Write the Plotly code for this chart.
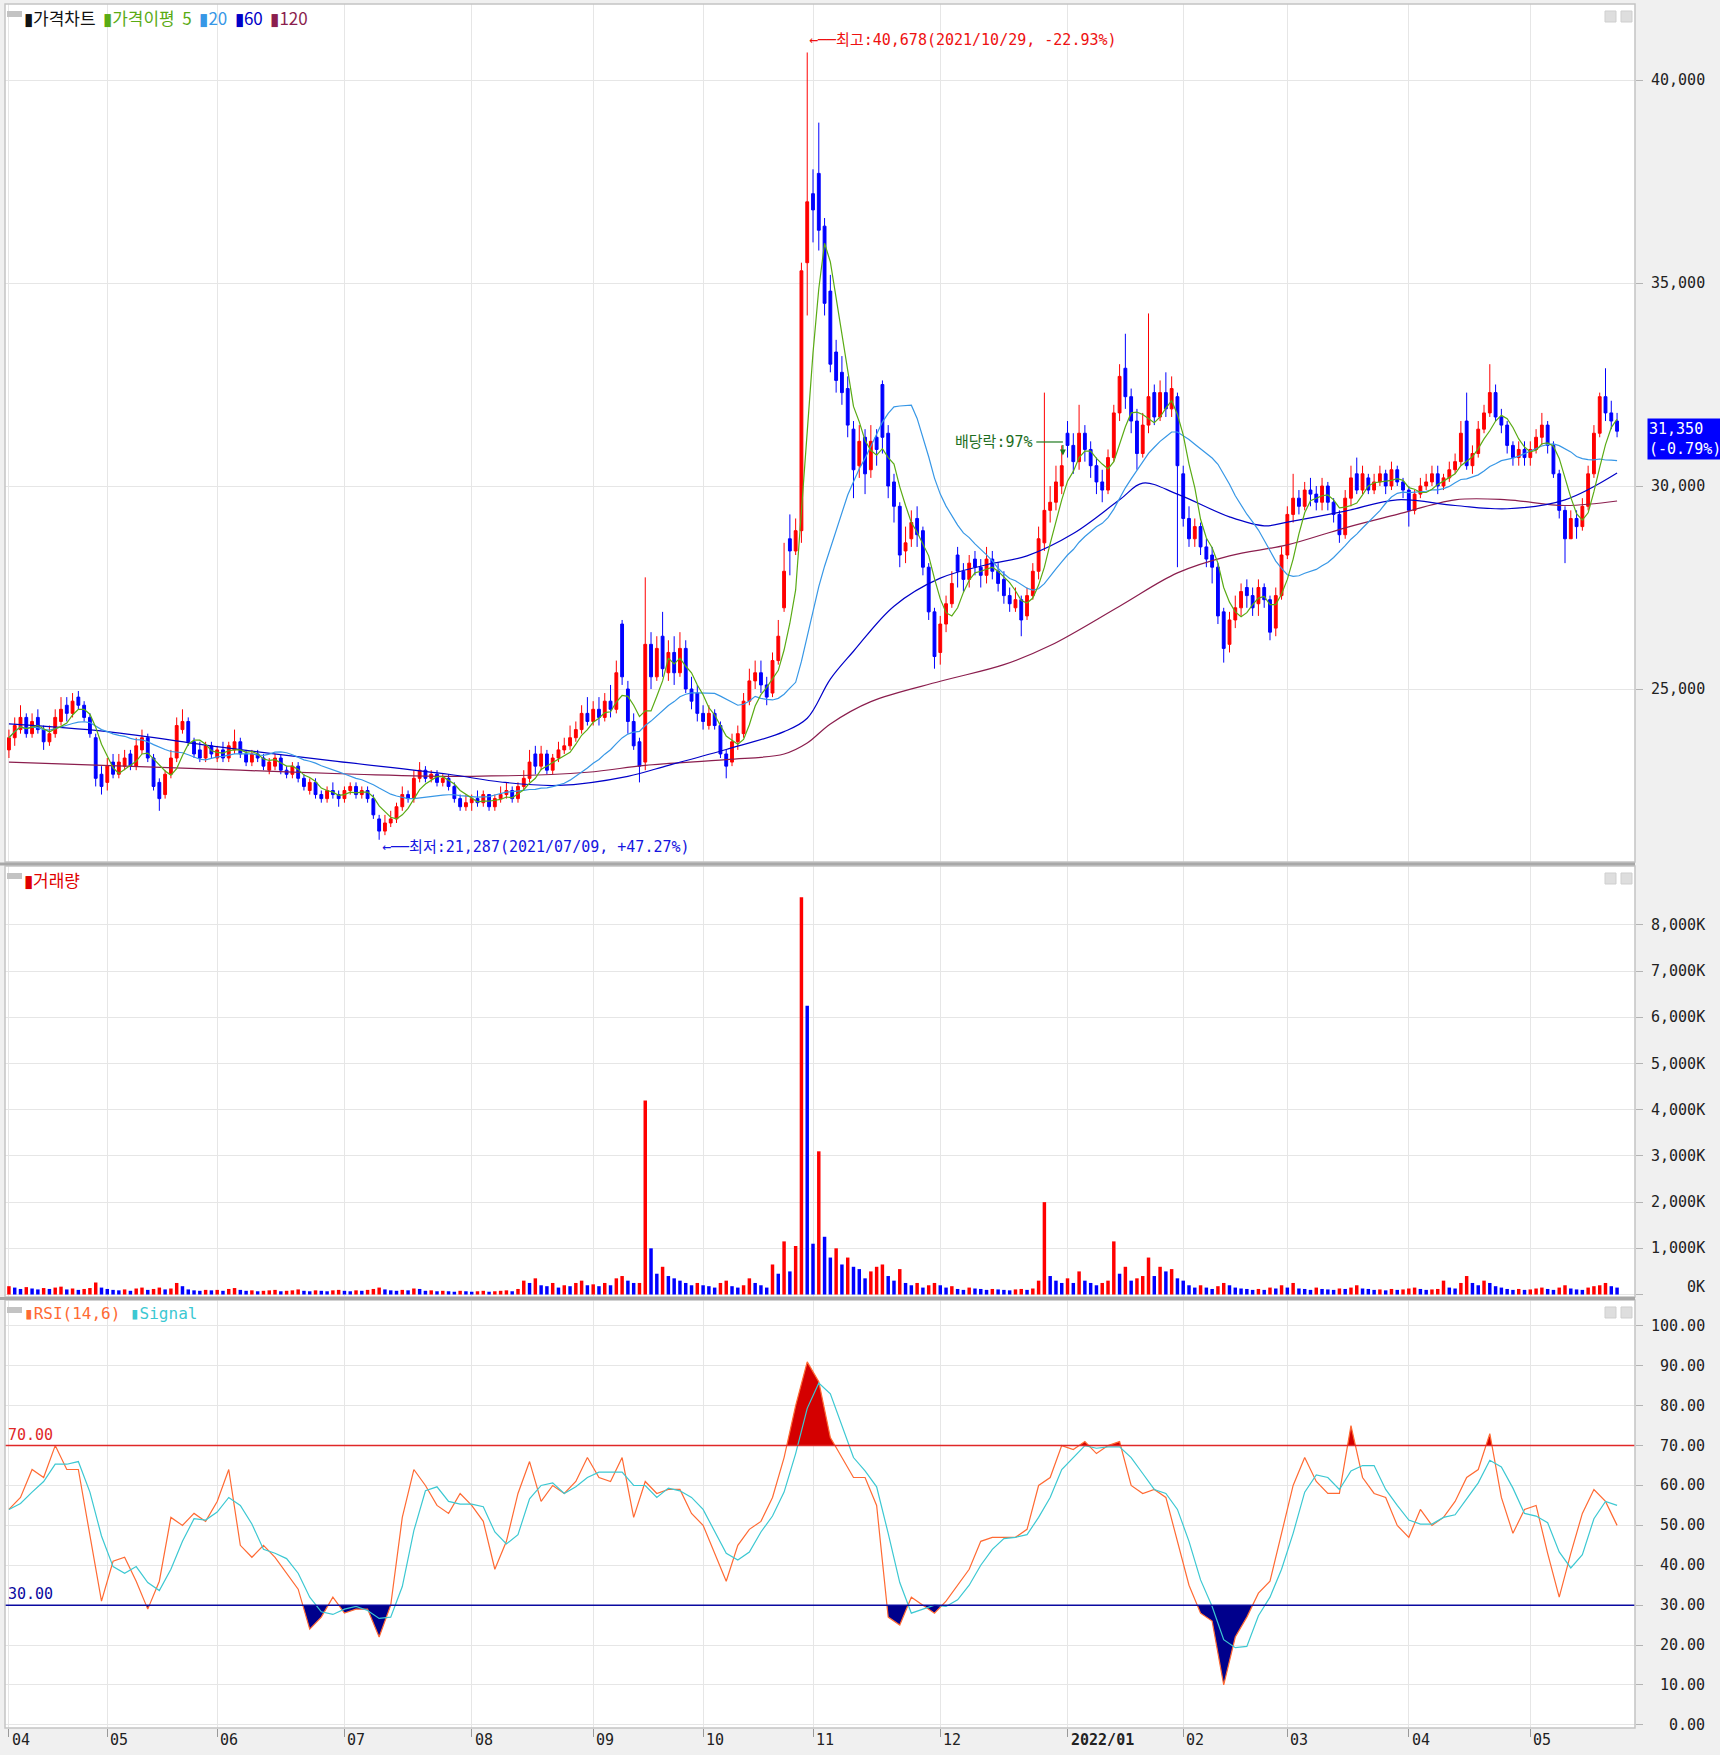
import plotly.graph_objects as go
import pandas as pd

# ---------------- DATA ----------------
# trading-day index 0 = 2021/04/08 ... 278 = 2022/05/24
month_start_idx = [0, 17, 36, 58, 80, 101, 120, 139, 161, 183, 203, 221, 242, 263]
month_labels = ["04", "05", "06", "07", "08", "09", "10", "11", "12", "2022/01", "02", "03", "04", "05"]

close = (
    [23800, 24100, 24300, 23900, 24200, 24000, 23700, 23900, 24300, 24500, 24400, 24700, 24600, 24300, 23900, 22800, 22600]
    + [23100, 22900, 23200, 23300, 23100, 23600, 23800, 23300, 22600, 22300, 22900, 23300, 24100, 24200, 23700, 23400, 23300, 23600, 23400]
    + [23500, 23300, 23600, 23700, 23400, 23200, 23400, 23300, 23100, 23200, 23300, 23000, 22900, 23100, 22800, 22600, 22700, 22400, 22300, 22500, 22400, 22300]
    + [22500, 22600, 22400, 22500, 22300, 21900, 21500, 21700, 21800, 22100, 22400, 22300, 22800, 23000, 22800, 22900, 22700, 22800, 22600, 22300, 22100, 22200]
    + [22300, 22200, 22400, 22100, 22300, 22400, 22500, 22300, 22600, 22800, 23200, 23100, 23400, 23000, 23300, 23500, 23600, 23800, 24000, 24400, 24200]
    + [24500, 24300, 24700, 24500, 25400, 25300, 24200, 23600, 23100, 26100, 25300, 26000, 25500, 25900, 25400, 26000, 25000, 24700, 24400]
    + [24200, 24400, 24100, 23400, 23100, 23700, 23900, 24700, 25200, 25400, 25100, 24800, 25700, 26300, 27900, 28400, 28900, 35300, 37000]
    + [36800, 36300, 34500, 33000, 32600, 32300, 31500, 30400, 31100, 30300, 31100, 30900, 31200, 30000, 29500, 28300, 28600, 29100, 28800, 28000, 26900, 25800]
    + [26600, 27100, 27600, 27900, 27700, 28100, 28000, 27800, 28200, 27900, 27600, 27300, 27100, 27200, 26700, 27300, 27900, 28700, 29400, 29600, 30100, 30500]
    + [31000, 30600, 31300, 30900, 30500, 30100, 29900, 30700, 31800, 32700, 32200, 31600, 30800, 31500, 32200, 31700, 32300, 31900, 32400, 30500]
    + [29200, 28700, 29000, 28500, 28200, 28000, 26800, 26000, 26700, 27000, 27400, 27300, 27000, 27500, 27200, 26400, 27300, 28300]
    + [29300, 29700, 29500, 29900, 29800, 29600, 30000, 29600, 29300, 28800, 29700, 30200, 29900, 30300, 29900, 30100, 30300, 30000, 30400, 30100, 29900]
    + [29400, 29800, 30000, 30100, 30300, 30000, 30200, 30400, 30600, 31300, 30500, 30800, 31400, 31800, 32300, 31700, 31500, 31000, 30700, 30900, 30700]
    + [30900, 31200, 31500, 31000, 30300, 29400, 28700, 29200, 29000, 29500, 30300, 31300, 32200, 31800, 31600, 31350]
)
open_ = (
    [23500, 23800, 24000, 24300, 23900, 24300, 24000, 23700, 23900, 24200, 24600, 24400, 24800, 24600, 24300, 23800, 22900]
    + [22700, 23200, 22900, 23100, 23400, 23100, 23500, 23800, 23300, 22700, 22400, 22900, 23300, 24000, 24200, 23700, 23500, 23300, 23600]
    + [23300, 23500, 23300, 23500, 23700, 23400, 23200, 23400, 23300, 23000, 23100, 23300, 23000, 22900, 23100, 22800, 22500, 22700, 22400, 22300, 22500, 22400]
    + [22300, 22500, 22600, 22400, 22500, 22300, 21800, 21500, 21700, 21800, 22100, 22400, 22300, 22800, 23000, 22800, 22900, 22700, 22800, 22600, 22300, 22100]
    + [22200, 22300, 22200, 22400, 22100, 22300, 22400, 22500, 22300, 22600, 22800, 23400, 23100, 23400, 23000, 23300, 23500, 23600, 23800, 24000, 24400]
    + [24200, 24500, 24300, 24700, 24500, 26600, 25000, 24200, 23700, 23200, 26100, 25300, 26300, 25400, 25900, 25400, 26000, 25000, 24900]
    + [24400, 24100, 24400, 24100, 23400, 23200, 23700, 23900, 24700, 25200, 25400, 25100, 24900, 25700, 27000, 28700, 28400, 28900, 35500]
    + [37200, 37700, 36400, 34800, 33300, 32800, 32400, 31400, 30500, 31200, 30400, 31200, 32500, 31300, 30100, 29500, 28400, 28700, 29200, 28900, 28000, 26900]
    + [25900, 26600, 27100, 28300, 27900, 27700, 28200, 28000, 27800, 28200, 27900, 27700, 27300, 27000, 27200, 26800, 27300, 27900, 28600, 29400, 29600, 30000]
    + [31300, 31000, 30600, 31300, 30900, 30500, 30100, 29900, 30700, 31800, 32900, 32200, 31600, 30800, 31500, 32300, 31700, 32300, 31900, 32200]
    + [30300, 29200, 28700, 29000, 28500, 28300, 28000, 26900, 26100, 26700, 27000, 27500, 27300, 27100, 27500, 27200, 26500, 27300]
    + [28300, 29300, 29700, 29500, 29900, 29800, 29600, 30000, 29600, 29300, 28800, 29700, 30300, 29900, 30200, 29900, 30100, 30300, 30000, 30400, 30100]
    + [29900, 29400, 29800, 30000, 30100, 30300, 30000, 30200, 30400, 30600, 31600, 30500, 30800, 31400, 31800, 32300, 31700, 31500, 31000, 30700, 30900]
    + [30700, 30900, 31200, 31500, 31000, 30300, 29400, 28700, 29200, 29000, 29500, 30300, 31300, 32200, 31800, 31600]
)
high = (
    [24000, 24300, 24600, 24400, 24400, 24500, 24100, 24100, 24500, 24800, 24800, 24900, 24950, 24700, 24400, 23900, 23100]
    + [23300, 23400, 23400, 23500, 23500, 23800, 24000, 23900, 23400, 22800, 23000, 23500, 24300, 24500, 24300, 23800, 23700, 23700, 23700]
    + [23600, 23700, 23700, 24000, 23800, 23500, 23500, 23500, 23400, 23300, 23400, 23400, 23100, 23200, 23200, 22900, 22800, 22800, 22500, 22600, 22700, 22500]
    + [22600, 22700, 22700, 22600, 22600, 22400, 21900, 21900, 22000, 22200, 22600, 22500, 23000, 23200, 23100, 23000, 23000, 22900, 22900, 22700, 22400, 22400]
    + [22400, 22500, 22500, 22400, 22400, 22600, 22700, 22600, 22700, 23000, 23500, 23600, 23600, 23500, 23400, 23700, 23800, 24100, 24200, 24600, 24800]
    + [24700, 24800, 24900, 25100, 25700, 26700, 25200, 24400, 23800, 27750, 26400, 26300, 26900, 26200, 26300, 26400, 26200, 25300, 25100]
    + [24600, 24600, 24500, 24200, 23500, 23900, 24100, 24900, 25500, 25700, 25700, 25300, 25900, 26700, 28600, 29300, 29200, 35500, 40678]
    + [37800, 38950, 36600, 35200, 33600, 33200, 32700, 31600, 31500, 31400, 31500, 31400, 32600, 31500, 30300, 29600, 29000, 29400, 29500, 29000, 28100, 27000]
    + [26800, 27300, 27900, 28500, 28100, 28300, 28400, 28200, 28500, 28400, 28100, 27900, 27500, 27500, 27300, 27500, 28100, 29000, 32300, 30000, 30500, 31000]
    + [31600, 31300, 32000, 31500, 31100, 30700, 30400, 30900, 32000, 33000, 33750, 32400, 31900, 31800, 34250, 32500, 32600, 32800, 32700, 32300]
    + [30500, 29500, 29200, 29100, 28700, 28500, 28100, 27000, 26900, 27300, 27600, 27700, 27500, 27700, 27600, 27300, 27500, 28500]
    + [29500, 30300, 29900, 30100, 30200, 30000, 30200, 30100, 29700, 29400, 29900, 30500, 30700, 30500, 30300, 30300, 30500, 30400, 30600, 30500, 30200]
    + [30000, 29900, 30200, 30300, 30500, 30500, 30300, 30600, 30800, 31600, 32300, 31000, 31600, 32000, 33000, 32500, 31900, 31600, 31100, 31100, 31100]
    + [31100, 31400, 31800, 31600, 31100, 30400, 29500, 29400, 29400, 29700, 30500, 31500, 32300, 32900, 32100, 31800]
)
low = (
    [23300, 23600, 23900, 23800, 23800, 23900, 23500, 23600, 23800, 24100, 24200, 24300, 24500, 24200, 23800, 22600, 22400]
    + [22500, 22800, 22800, 23000, 23000, 23000, 23400, 23200, 22500, 22000, 22300, 22800, 23200, 23900, 23600, 23300, 23200, 23200, 23300]
    + [23200, 23200, 23200, 23400, 23300, 23100, 23100, 23200, 23000, 22900, 23000, 22900, 22800, 22800, 22700, 22500, 22400, 22300, 22200, 22200, 22300, 22100]
    + [22200, 22400, 22300, 22300, 22200, 21800, 21287, 21400, 21600, 21700, 22000, 22200, 22200, 22700, 22700, 22700, 22600, 22600, 22500, 22200, 22000, 22000]
    + [22000, 22100, 22100, 22000, 22000, 22200, 22300, 22200, 22200, 22500, 22700, 22900, 23000, 22900, 22900, 23200, 23400, 23500, 23700, 23900, 24100]
    + [24100, 24100, 24200, 24300, 24400, 25100, 23900, 23500, 22700, 23000, 25000, 25200, 25300, 25200, 25100, 25300, 24900, 24500, 24200]
    + [24000, 24000, 24000, 23300, 22800, 23100, 23500, 23800, 24600, 25000, 24900, 24600, 24800, 25600, 26900, 27800, 28300, 28600, 34200]
    + [36000, 35800, 34200, 32800, 32300, 32000, 31200, 29700, 30200, 29800, 30200, 30500, 30800, 29700, 29100, 28000, 28100, 28500, 28500, 27800, 26700, 25500]
    + [25600, 26400, 27000, 27500, 27400, 27500, 27800, 27500, 27600, 27700, 27400, 27100, 26900, 26900, 26300, 26700, 27200, 27700, 28400, 29100, 29400, 29800]
    + [30700, 30300, 30400, 30600, 30200, 29800, 29600, 29800, 30600, 31600, 31900, 31300, 30400, 30700, 31300, 31500, 31600, 31700, 31700, 28000]
    + [29000, 28500, 28500, 28300, 28000, 27600, 26600, 25650, 25900, 26500, 26800, 27000, 26800, 26800, 27000, 26200, 26300, 27200]
    + [28200, 29100, 29300, 29400, 29500, 29400, 29400, 29400, 29100, 28600, 28700, 29500, 29800, 29800, 29800, 29800, 30000, 29800, 29900, 30000, 29700]
    + [29000, 29300, 29700, 29900, 30000, 29800, 29900, 30100, 30300, 30500, 30400, 30300, 30700, 31300, 31700, 31600, 31300, 30800, 30500, 30500, 30500]
    + [30500, 30800, 31000, 30800, 30200, 29200, 28100, 28700, 28700, 28900, 29400, 30200, 31200, 31600, 31400, 31200]
)
volume_k = (
    [180, 150, 120, 160, 130, 110, 140, 120, 150, 170, 110, 130, 100, 120, 140, 260, 150]
    + [120, 100, 90, 110, 80, 130, 150, 100, 120, 150, 110, 130, 250, 180, 110, 90, 80, 100, 90]
    + [100, 80, 120, 140, 100, 80, 90, 70, 80, 90, 100, 70, 80, 90, 110, 80, 70, 90, 80, 70, 90, 100]
    + [80, 70, 90, 80, 100, 120, 150, 110, 90, 80, 100, 90, 130, 120, 80, 90, 70, 80, 70, 60, 80, 70]
    + [60, 70, 80, 60, 70, 80, 90, 70, 120, 300, 250, 350, 200, 180, 250, 150, 200, 180, 250, 300, 200]
    + [220, 180, 250, 200, 350, 400, 300, 250, 250, 4200, 1000, 450, 600, 400, 350, 300, 250, 200, 250]
    + [200, 180, 150, 250, 300, 180, 150, 200, 350, 250, 200, 150, 650, 450, 1150, 500, 1050, 8600, 6250]
    + [1100, 3100, 1250, 800, 1000, 650, 800, 600, 550, 350, 500, 600, 650, 400, 300, 550, 250, 200, 250, 150, 200, 250]
    + [200, 150, 180, 120, 100, 150, 130, 120, 100, 120, 110, 100, 90, 110, 120, 100, 130, 300, 2000, 400, 300, 250]
    + [350, 250, 500, 300, 250, 200, 250, 300, 1150, 450, 600, 300, 350, 400, 800, 400, 600, 500, 550, 350]
    + [300, 200, 150, 200, 150, 120, 180, 250, 200, 150, 130, 120, 100, 120, 100, 150, 130, 200]
    + [150, 250, 130, 120, 100, 150, 120, 110, 100, 130, 120, 150, 200, 130, 120, 100, 110, 90, 120, 100, 110]
    + [130, 150, 120, 100, 110, 120, 300, 150, 130, 250, 400, 250, 200, 300, 250, 180, 150, 120, 100, 120, 100]
    + [110, 130, 150, 120, 100, 150, 200, 130, 110, 100, 150, 180, 200, 250, 180, 150]
)

# longer moving averages (they need history before the window)
ma60_day = [0, 17, 37, 56, 76, 85, 95, 107, 114, 124, 134, 138, 142, 146, 153, 161, 169, 176, 184, 192, 196, 202, 211, 217, 221, 231, 240, 250, 259, 269, 278]
ma60_val = [24140, 23950, 23560, 23230, 22900, 22710, 22625, 22850, 23120, 23510, 23950, 24280, 25245, 25930, 27040, 27730, 28060, 28280, 28830, 29660, 30070, 29800, 29240, 29020, 29110, 29380, 29660, 29520, 29440, 29660, 30320]
ma120_day = [0, 20, 40, 60, 80, 100, 110, 124, 134, 138, 142, 149, 161, 172, 180, 192, 202, 211, 221, 231, 240, 250, 259, 269, 278]
ma120_val = [23200, 23100, 23000, 22900, 22850, 22950, 23120, 23260, 23400, 23670, 24140, 24690, 25190, 25600, 26070, 27040, 27860, 28280, 28550, 28970, 29300, 29660, 29660, 29520, 29630]

# RSI(14) read every 2 trading days (day 0, 2, 4, ... 278)
rsi_val = [54, 57, 64, 62, 70, 64, 64, 47, 31, 41,
           42, 36, 29, 36, 52, 50, 53, 51, 56, 64,
           45, 42, 45, 42, 38, 34, 24, 27, 32, 28,
           29, 29, 22, 30, 52, 64, 60, 55, 53, 58,
           55, 51, 39, 46, 58, 66, 56, 60, 58, 61,
           67, 62, 61, 67, 52, 61, 58, 59, 59, 53,
           50, 43, 36, 45, 49, 51, 57, 67, 80, 91,
           86, 72, 67, 62, 62, 55, 27, 25, 32, 30,
           28, 31, 35, 39, 46, 47, 47, 47, 49, 60,
           62, 70, 69, 71, 68, 70, 71, 60, 58, 59,
           57, 46, 35, 28, 26, 10, 22, 27, 33, 36,
           48, 60, 67, 61, 58, 58, 75, 62, 58, 57,
           50, 47, 54, 50, 52, 56, 62, 64, 73, 57,
           48, 54, 55, 43, 32, 43, 53, 59, 56, 50]

price_ticks = [25000, 30000, 35000, 40000]
volume_ticks_k = [0, 1000, 2000, 3000, 4000, 5000, 6000, 7000, 8000]
rsi_ticks = [0, 10, 20, 30, 40, 50, 60, 70, 80, 90, 100]

high_point = (138, 40678, "2021/10/29", "-22.93%")
low_point = (64, 21287, "2021/07/09", "+47.27%")
last_price, last_change = 31350, "-0.79%"
dividend_day, dividend_price, dividend_text = 182.2, 31084, "배당락:97%"

N = len(close)
for arr in (open_, high, low, volume_k):
    assert len(arr) == N, len(arr)
assert len(rsi_val) == 140
days = list(range(N))
high = [max(h, o, c) for h, o, c in zip(high, open_, close)]
low = [min(l, o, c) for l, o, c in zip(low, open_, close)]

# ---------------- STYLE ----------------
RED = "#ff0000"
BLUE = "#0000ff"
C_MA5 = "#5aab14"
C_MA20 = "#3797e6"
C_MA60 = "#0000c8"
C_MA120 = "#8b1e4e"
C_RSI = "#ff6a33"
C_SIG = "#3cc8d2"
GRID = "#e6e6e6"
MONO = "DejaVu Sans Mono, Noto Sans CJK KR, monospace"
NUMFONT = "DejaVu Sans Mono, monospace"
KRFONT = "Noto Sans CJK KR, Noto Sans, sans-serif"
NB = "\u00a0"
ARROW = "←──"

cs = pd.Series(close, dtype=float)
ma5 = cs.rolling(5, min_periods=1).mean()
ma20 = cs.rolling(20, min_periods=1).mean()

rsi_days = list(range(0, N, 2))
signal = pd.Series(rsi_val, dtype=float).rolling(3, min_periods=1).mean()

vol_colors = [RED] + [RED if volume_k[i] >= volume_k[i - 1] else BLUE for i in range(1, N)]

fig = go.Figure()

# price panel
fig.add_trace(go.Candlestick(
    x=days, open=open_, high=high, low=low, close=close,
    increasing=dict(line=dict(color=RED, width=1), fillcolor=RED),
    decreasing=dict(line=dict(color=BLUE, width=1), fillcolor=BLUE),
    whiskerwidth=0, xaxis="x", yaxis="y", showlegend=False))
fig.add_trace(go.Scatter(x=ma120_day, y=ma120_val, mode="lines", line=dict(color=C_MA120, width=1.2, shape="spline"), xaxis="x", yaxis="y"))
fig.add_trace(go.Scatter(x=ma60_day, y=ma60_val, mode="lines", line=dict(color=C_MA60, width=1.2, shape="spline"), xaxis="x", yaxis="y"))
fig.add_trace(go.Scatter(x=days, y=ma20, mode="lines", line=dict(color=C_MA20, width=1.2), xaxis="x", yaxis="y"))
fig.add_trace(go.Scatter(x=days, y=ma5, mode="lines", line=dict(color=C_MA5, width=1.2), xaxis="x", yaxis="y"))

# volume panel
fig.add_trace(go.Bar(x=days, y=volume_k, marker=dict(color=vol_colors, line=dict(width=0)), width=0.6, xaxis="x2", yaxis="y2"))


# RSI panel fills
def clipped(xs, ys, level, above):
    ox, oy = [], []
    for i in range(len(xs)):
        if i > 0:
            y0, y1 = ys[i - 1], ys[i]
            if (y0 - level) * (y1 - level) < 0:
                t = (level - y0) / (y1 - y0)
                ox.append(xs[i - 1] + t * (xs[i] - xs[i - 1]))
                oy.append(level)
        oy.append(max(ys[i], level) if above else min(ys[i], level))
        ox.append(xs[i])
    return ox + [ox[-1], ox[0]], oy + [level, level]


fx, fy = clipped(rsi_days, rsi_val, 70, True)
fig.add_trace(go.Scatter(x=fx, y=fy, fill="toself", fillcolor="#d40000", line=dict(width=0), mode="lines", xaxis="x3", yaxis="y3"))
fx, fy = clipped(rsi_days, rsi_val, 30, False)
fig.add_trace(go.Scatter(x=fx, y=fy, fill="toself", fillcolor="#00008c", line=dict(width=0), mode="lines", xaxis="x3", yaxis="y3"))
fig.add_trace(go.Scatter(x=rsi_days, y=rsi_val, mode="lines", line=dict(color=C_RSI, width=1.2), xaxis="x3", yaxis="y3"))
fig.add_trace(go.Scatter(x=rsi_days, y=signal, mode="lines", line=dict(color=C_SIG, width=1.2), xaxis="x3", yaxis="y3"))

# ---------------- LAYOUT ----------------
XR = [-0.68, 281.1]
xcommon = dict(range=XR, tickvals=month_start_idx, showticklabels=False, showgrid=True, gridcolor=GRID,
               gridwidth=1, zeroline=False, showline=False, fixedrange=True)
ycommon = dict(side="right", showticklabels=False, showgrid=True, gridcolor=GRID, zeroline=False,
               ticks="outside", ticklen=7, tickcolor="#b4b4b4", showline=False)

D_TOP = [0.50232, 1.0]
D_VOL = [0.25, 0.5]
D_RSI = [0.0, 0.24826]

fig.update_layout(
    width=1720, height=1755,
    margin=dict(l=5, r=85, t=4, b=27),
    paper_bgcolor="#f0f0f0", plot_bgcolor="#ffffff",
    showlegend=False, hovermode=False,
    bargap=0.3,
    xaxis=dict(**xcommon, anchor="y", rangeslider=dict(visible=False)),
    xaxis2=dict(**xcommon, anchor="y2", matches="x"),
    xaxis3=dict(**xcommon, anchor="y3", matches="x", ticks="outside", ticklen=8, tickcolor="#9a9a9a"),
    yaxis=dict(**ycommon, domain=D_TOP, range=[20739, 41872], tickvals=price_ticks),
    yaxis2=dict(**ycommon, domain=D_VOL, range=[-54, 9277], tickvals=volume_ticks_k),
    yaxis3=dict(**ycommon, domain=D_RSI, range=[-0.8, 106.5], tickvals=rsi_ticks),
)

shapes = []
# RSI reference lines
shapes.append(dict(type="line", xref="x3 domain", yref="y3", x0=0, x1=1, y0=70, y1=70, line=dict(color="#e02828", width=1.5)))
shapes.append(dict(type="line", xref="x3 domain", yref="y3", x0=0, x1=1, y0=30, y1=30, line=dict(color="#0a0aa0", width=1.5)))
# panel frames
for d in (D_TOP, D_VOL, D_RSI):
    shapes.append(dict(type="rect", xref="paper", yref="paper", x0=0, x1=1, y0=d[0], y1=d[1], line=dict(color="#c4c4c4", width=1.5)))
# separators between panels
for yv in (0.5012, 0.2491):
    shapes.append(dict(type="line", xref="paper", yref="paper", x0=-0.004, x1=1.0, y0=yv, y1=yv, line=dict(color="#a8a8a8", width=3)))
# small panel icons
for d in (D_TOP, D_VOL, D_RSI):
    top_px = 7 / 1724
    shapes.append(dict(type="rect", xref="paper", yref="paper", x0=2 / 1630, x1=17 / 1630,
                       y0=d[1] - top_px - 6 / 1724, y1=d[1] - top_px, fillcolor="#c3c3c3", line=dict(width=0)))
    for xa in (1600, 1616):
        shapes.append(dict(type="rect", xref="paper", yref="paper", x0=xa / 1630, x1=(xa + 11) / 1630,
                           y0=d[1] - 18 / 1724, y1=d[1] - 7 / 1724, fillcolor="#dedede", line=dict(color="#cfcfcf", width=1)))
# dividend marker line
shapes.append(dict(type="line", xref="x", yref="y", x0=dividend_day - 4.6, x1=dividend_day, y0=dividend_price, y1=dividend_price,
                   line=dict(color="#1e7a1e", width=1.2)))
fig.update_layout(shapes=shapes)

ann = []
# right axis labels
for v in price_ticks:
    ann.append(dict(x=1, xref="paper", y=v, yref="y", xanchor="right", xshift=72, text=f"{v:,}", showarrow=False,
                    font=dict(family=NUMFONT, size=15, color="#222222")))
for v in volume_ticks_k:
    ann.append(dict(x=1, xref="paper", y=v, yref="y2", xanchor="right", xshift=72, yshift=8 if v == 0 else 0,
                    text=f"{v:,}K", showarrow=False, font=dict(family=NUMFONT, size=15, color="#222222")))
for v in rsi_ticks:
    ann.append(dict(x=1, xref="paper", y=v, yref="y3", xanchor="right", xshift=72, text=f"{v:.2f}", showarrow=False,
                    font=dict(family=NUMFONT, size=15, color="#222222")))
# month labels
for i, lab in zip(month_start_idx, month_labels):
    ann.append(dict(x=i, xref="x3", y=0, yref="paper", xanchor="left", yanchor="top", xshift=1, yshift=-1,
                    text=f"<b>{lab}</b>" if "/" in lab else lab, showarrow=False,
                    font=dict(family=NUMFONT, size=15, color="#222222")))
# panel legends
SP = NB * 2
ann.append(dict(x=17 / 1630, xref="paper", y=(1728 - 17) / 1724, yref="paper", xanchor="left", yanchor="middle", showarrow=False,
                text=("<span style='color:#111'>▮가격차트</span>" + SP + "<span style='color:%s'>▮가격이평" + SP + "5</span>" + SP
                      + "<span style='color:%s'>▮20</span>" + SP + "<span style='color:%s'>▮60</span>" + SP
                      + "<span style='color:%s'>▮120</span>") % (C_MA5, C_MA20, C_MA60, C_MA120),
                font=dict(family=KRFONT, size=17)))
ann.append(dict(x=17 / 1630, xref="paper", y=(1728 - 879) / 1724, yref="paper", xanchor="left", yanchor="middle", showarrow=False,
                text="<span style='color:#e00000'>▮거래량</span>", font=dict(family=KRFONT, size=17)))
ann.append(dict(x=17 / 1630, xref="paper", y=(1728 - 1313) / 1724, yref="paper", xanchor="left", yanchor="middle", showarrow=False,
                text="<span style='color:%s'>▮RSI(14,6)</span>" % C_RSI + NB + "<span style='color:%s'>▮Signal</span>" % C_SIG,
                font=dict(family=MONO, size=16)))
# RSI level labels
ann.append(dict(x=0, xref="x3 domain", y=70, yref="y3", xanchor="left", yanchor="bottom", xshift=1, yshift=0, text="70.00",
                showarrow=False, font=dict(family=NUMFONT, size=15, color="#e02828")))
ann.append(dict(x=0, xref="x3 domain", y=30, yref="y3", xanchor="left", yanchor="bottom", xshift=1, yshift=0, text="30.00",
                showarrow=False, font=dict(family=NUMFONT, size=15, color="#0a0aa0")))
# high / low notes
ann.append(dict(x=high_point[0], xref="x", y=high_point[1], yref="y", xanchor="left", yanchor="middle", yshift=12, xshift=0,
                text=f"{ARROW}최고:{high_point[1]:,}({high_point[2]}, {high_point[3]})", showarrow=False,
                font=dict(family=MONO, size=15, color="#ee1111")))
ann.append(dict(x=low_point[0], xref="x", y=low_point[1], yref="y", xanchor="left", yanchor="middle", yshift=-7, xshift=1,
                text=f"{ARROW}최저:{low_point[1]:,}({low_point[2]}, {low_point[3]})", showarrow=False,
                font=dict(family=MONO, size=15, color="#1515e0")))
# dividend note
ann.append(dict(x=dividend_day - 4.8, xref="x", y=dividend_price, yref="y", xanchor="right", yanchor="middle", showarrow=False,
                text=dividend_text, font=dict(family=MONO, size=15, color="#1e6e1e")))
ann.append(dict(x=dividend_day, xref="x", y=dividend_price - 330, yref="y", ax=0, ay=-12, showarrow=True, arrowhead=2,
                arrowsize=1, arrowwidth=1.2, arrowcolor="#1e7a1e", text=""))
# last price box
ann.append(dict(x=1, xref="paper", y=last_price, yref="y", xanchor="left", yanchor="top", xshift=12, yshift=13,
                text=f"{last_price:,}<br>({last_change})", showarrow=False, align="left", bgcolor="#0000ff", borderpad=1,
                font=dict(family=NUMFONT, size=15, color="#ffffff")))
fig.update_layout(annotations=ann)

fig.write_html("out.html", config={"displayModeBar": False},
               post_script="document.body.style.margin='0';document.body.style.overflow='hidden';")
